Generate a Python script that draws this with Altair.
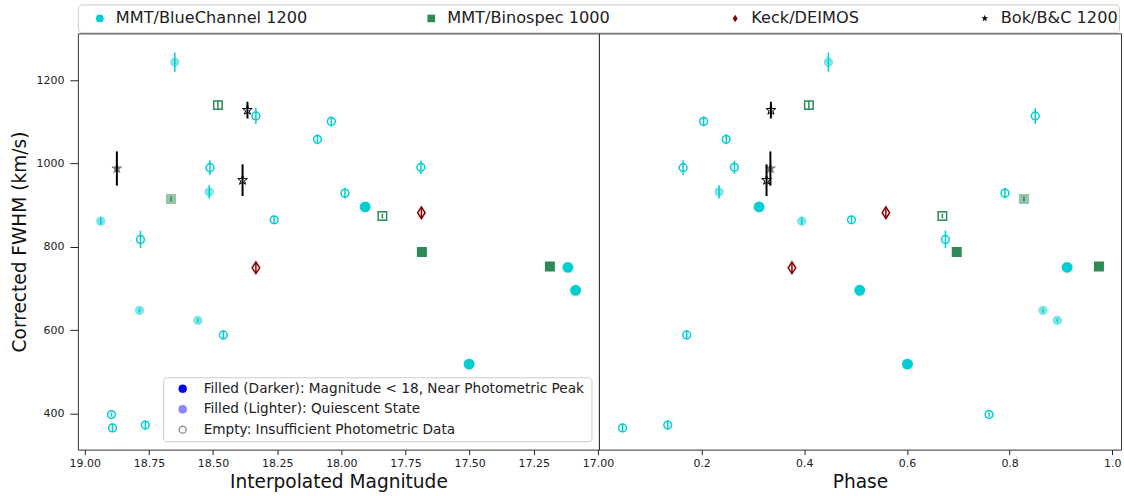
import altair as alt
import pandas as pd

# ---------------- data ----------------
INSTRUMENTS = ["MMT/BlueChannel 1200", "MMT/Binospec 1000", "Keck/DEIMOS", "Bok/B&C 1200"]
STATES = ["dark", "light", "empty"]
STATE_LABELS = [
    "Filled (Darker): Magnitude < 18, Near Photometric Peak",
    "Filled (Lighter): Quiescent State",
    "Empty: Insufficient Photometric Data",
]

instrument = (["MMT/BlueChannel 1200"] * 21 + ["MMT/Binospec 1000"] * 5
              + ["Keck/DEIMOS"] * 2 + ["Bok/B&C 1200"] * 3)
state = [
    "light", "empty", "empty", "empty", "light", "empty", "light", "light", "empty", "light",
    "empty", "empty", "empty", "empty", "empty", "empty", "dark", "empty", "dark", "dark", "dark",
    "light", "empty", "empty", "dark", "dark",
    "empty", "empty",
    "light", "empty", "empty",
]
magnitude = [
    18.938, 18.896, 18.892, 18.783, 18.787, 18.764, 18.649, 18.559, 18.512, 18.515,
    18.460, 18.333, 18.262, 18.093, 18.039, 17.986, 17.907, 17.690, 17.502, 17.117, 17.087,
    18.664, 18.481, 17.840, 17.686, 17.187,
    18.333, 17.688,
    18.875, 18.385, 18.366,
]
phase = [
    0.395, 0.760, 0.046, 0.675, 0.865, 0.134, 0.447, 0.893, 0.164, 0.234,
    0.171, 0.850, 0.492, 0.248, 0.204, 0.791, 0.312, 0.264, 0.601, 0.912, 0.508,
    0.828, 0.409, 0.669, 0.697, 0.974,
    0.376, 0.559,
    0.334, 0.3265, 0.335,
]
fwhm = [
    862, 398, 366, 818, 648, 373, 1243, 624, 990, 932,
    589, 1114, 865, 1058, 1101, 929, 896, 991, 519, 751, 696,
    915, 1140, 874, 788, 753,
    750, 882,
    988, 960, 1128,
]
fwhm_err = [
    9, 5, 10, 21, 5, 11, 23, 5, 18, 16,
    11, 19, 9, 12, 12, 13, 8, 16, 8, 8, 8,
    6, 11, 6, 6, 6,
    12, 12,
    41, 38, 20,
]

MAG_TICKS = [19.0, 18.75, 18.5, 18.25, 18.0, 17.75, 17.5, 17.25, 17.0]
PHASE_TICKS = [0.2, 0.4, 0.6, 0.8, 1.0]
FWHM_TICKS = [400, 600, 800, 1000, 1200]

# ---------------- styles ----------------
COLORS = ["#00CED1", "#2E8B57", "#8B0000", "#000000"]
DIAMOND = "M0,-1L0.65,0L0,1L-0.65,0Z"
STAR = ("M0,-1L0.225,-0.309L0.951,-0.309L0.363,0.118L0.588,0.809L0,0.382"
        "L-0.588,0.809L-0.363,0.118L-0.951,-0.309L-0.225,-0.309Z")
SHAPES = ["circle", "square", DIAMOND, STAR]
SIZE_BY_SHAPE = {
    "MMT/BlueChannel 1200": {"dark": 90, "light": 62, "empty": 60},
    "MMT/Binospec 1000": {"dark": 72, "light": 72, "empty": 72},
    "Keck/DEIMOS": {"dark": 135, "light": 135, "empty": 135},
    "Bok/B&C 1200": {"dark": 105, "light": 105, "empty": 105},
}
MARKER_EDGE = {"MMT/BlueChannel 1200": 1.5, "MMT/Binospec 1000": 1.5,
               "Keck/DEIMOS": 1.5, "Bok/B&C 1200": 1.0}
FILL_OPACITY = {"dark": 1.0, "light": 1.0, "empty": 0.0}
MARK_OPACITY = {"dark": 1.0, "light": 0.5, "empty": 1.0}
ERR_WIDTH = {"MMT/BlueChannel 1200": 1.5, "MMT/Binospec 1000": 1.5,
             "Keck/DEIMOS": 1.5, "Bok/B&C 1200": 2.0}
TOP_LEGEND_SIZES = [60, 55, 110, 80]
TOP_LEGEND_X = [22, 354, 658.5, 908.5]

df = pd.DataFrame({
    "instrument": instrument, "state": state, "magnitude": magnitude,
    "phase": phase, "fwhm": fwhm, "err": fwhm_err,
})
df["lo"] = df["fwhm"] - df["err"]
df["hi"] = df["fwhm"] + df["err"]
df["msize"] = [SIZE_BY_SHAPE[i][s] for i, s in zip(df["instrument"], df["state"])]
df["fo"] = [FILL_OPACITY[s] for s in df["state"]]
df["op"] = [MARK_OPACITY[s] for s in df["state"]]
df["mw"] = [MARKER_EDGE[i] for i in df["instrument"]]
df["ew"] = [ERR_WIDTH[i] for i in df["instrument"]]

color_scale = alt.Scale(domain=INSTRUMENTS, range=COLORS)
shape_scale = alt.Scale(domain=INSTRUMENTS, range=SHAPES)
y_scale = alt.Scale(domain=[314, 1312], nice=False, zero=False)
W_L, W_R, H = 522, 523, 417

y_axis = alt.Axis(values=FWHM_TICKS, format="d", title="Corrected FWHM (km/s)", titleX=-48,
                  tickSize=8, labelPadding=6)


def panel(xfield, xscale, xaxis, width, yaxis, with_legend):
    pts = alt.Chart(df).mark_point().encode(
        x=alt.X(f"{xfield}:Q", scale=xscale, axis=xaxis),
        y=alt.Y("fwhm:Q", scale=y_scale, axis=yaxis),
        shape=alt.Shape("instrument:N", scale=shape_scale, legend=None),
        fill=alt.Fill("instrument:N", scale=color_scale, legend=None),
        stroke=alt.Stroke("instrument:N", scale=color_scale, legend=None),
        fillOpacity=alt.FillOpacity("fo:Q", scale=None, legend=None),
        opacity=alt.Opacity("op:Q", scale=None, legend=None),
        size=alt.Size("msize:Q", scale=None, legend=None),
        strokeWidth=alt.StrokeWidth("mw:Q", scale=None, legend=None),
    )
    bars = alt.Chart(df).mark_rule().encode(
        x=alt.X(f"{xfield}:Q", scale=xscale, axis=xaxis),
        y=alt.Y("lo:Q", scale=y_scale, axis=yaxis),
        y2="hi:Q",
        stroke=alt.Stroke("instrument:N", scale=color_scale, legend=None),
        strokeWidth=alt.StrokeWidth("ew:Q", scale=None, legend=None),
    )
    layers = [pts, bars]
    if with_legend:
        box = alt.Chart(pd.DataFrame({"k": [0]})).mark_rect(
            fill="white", fillOpacity=0.85, stroke="#cccccc", strokeWidth=1, cornerRadius=3
        ).encode(x=alt.value(86), x2=alt.value(515), y=alt.value(345), y2=alt.value(409))
        layers.append(box)
        sym_styles = [
            dict(fill="#0000ff", stroke="#0000ff", strokeWidth=0.5, size=64),
            dict(fill="#0000ff", fillOpacity=0.45, stroke="#0000ff", strokeOpacity=0.45, strokeWidth=0.5, size=64),
            dict(fill="white", fillOpacity=0, stroke="#808080", strokeWidth=1.2, size=50),
        ]
        for i, lab in enumerate(STATE_LABELS):
            ypx = 356 + i * 20.5
            d = pd.DataFrame({"label": [lab]})
            layers.append(alt.Chart(d).mark_point(shape="circle", opacity=1, **sym_styles[i]).encode(
                x=alt.value(105), y=alt.value(ypx)))
            layers.append(alt.Chart(d).mark_text(align="left", baseline="middle", fontSize=13.7,
                                                 color="#222222").encode(
                x=alt.value(126), y=alt.value(ypx), text="label:N"))
    return alt.layer(*layers).properties(width=width, height=H)


left = panel(
    "magnitude",
    alt.Scale(domain=[16.996, 19.027], reverse=True, nice=False, zero=False),
    alt.Axis(values=MAG_TICKS, format=".2f", title="Interpolated Magnitude"),
    W_L, y_axis, True,
)
right = panel(
    "phase",
    alt.Scale(domain=[0.0, 1.017], nice=False, zero=False),
    alt.Axis(values=PHASE_TICKS, format=".1f", title="Phase"),
    W_R, None, False,
)

top_df = pd.DataFrame({"instrument": INSTRUMENTS, "pos": TOP_LEGEND_X})
top_x = alt.X("pos:Q", scale=alt.Scale(domain=[0, 1043], nice=False, zero=False), axis=None)
top_sym = alt.Chart(top_df).mark_point(filled=True, opacity=1).encode(
    x=top_x, y=alt.value(14),
    shape=alt.Shape("instrument:N", scale=shape_scale, legend=None),
    color=alt.Color("instrument:N", scale=color_scale, legend=None),
    size=alt.Size("instrument:N", scale=alt.Scale(domain=INSTRUMENTS, range=TOP_LEGEND_SIZES), legend=None),
)
top_txt = alt.Chart(top_df).mark_text(align="left", baseline="middle", dx=16, fontSize=16.2,
                                      color="#222222").encode(
    x=top_x, y=alt.value(14), text="instrument:N")
top = alt.layer(top_sym, top_txt).properties(
    width=1043, height=28,
    view=alt.ViewBackground(stroke="#cccccc", cornerRadius=4, fill="white"),
)

chart = alt.vconcat(
    top,
    alt.hconcat(left, right, spacing=0, bounds="flush"),
    spacing=1, bounds="flush",
).properties(
    padding={"left": 10, "top": 3, "right": 2, "bottom": 0},
    background="white",
).configure(font="DejaVu Sans").configure_view(
    stroke="#333333", strokeWidth=1
).configure_axis(
    grid=False, domain=False, labelFontSize=11, titleFontSize=18.6, titleFontWeight="normal",
    labelColor="#222222", titleColor="#111111", tickColor="#222222", tickSize=5,
    labelPadding=3, titlePadding=4,
)

chart.save("out.html", embed_options={"renderer": "svg", "actions": False})
